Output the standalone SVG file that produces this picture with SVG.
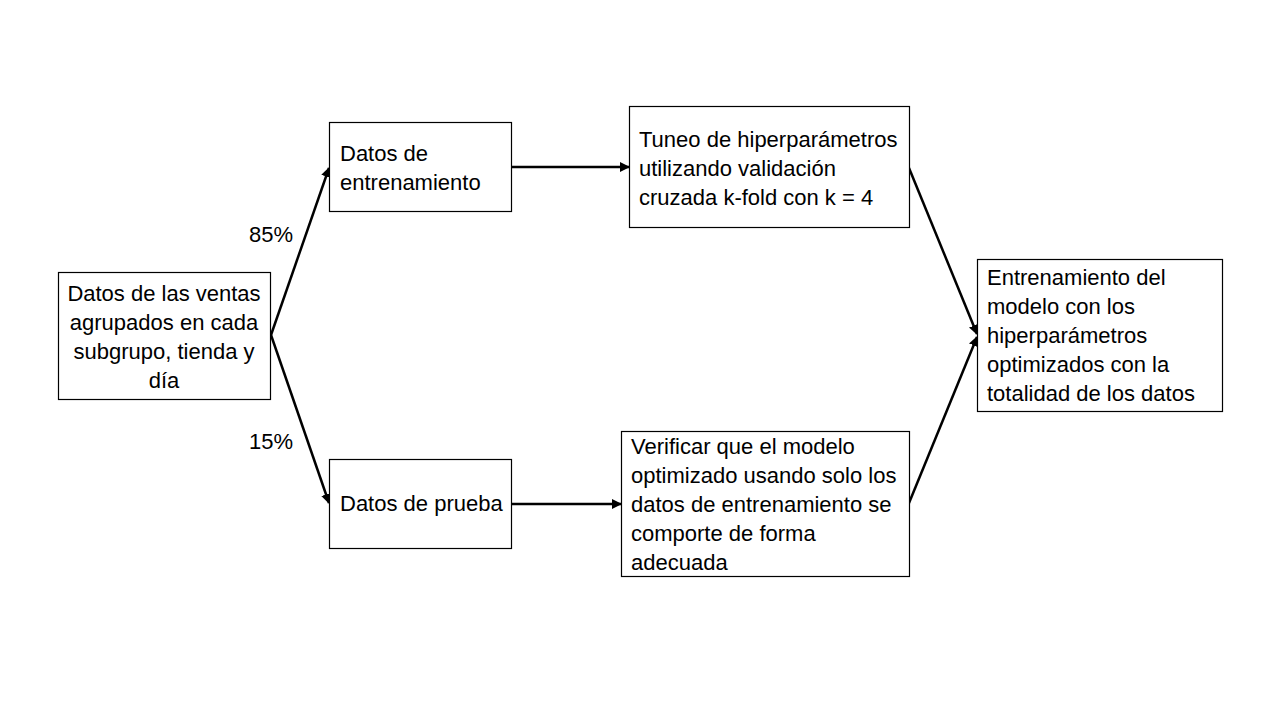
<svg xmlns="http://www.w3.org/2000/svg" width="1280" height="720" viewBox="0 0 1280 720">
<style>
.box{fill:#fff;stroke:#000;stroke-width:1.2}
.t{font-family:"Liberation Sans",Arial,sans-serif;font-size:22px;fill:#000}
.c{text-anchor:middle}
.con{stroke:#000;stroke-width:2.5;fill:none;marker-end:url(#ah)}
</style>
<defs>
<marker id="ah" viewBox="0 0 10 10" refX="9" refY="5" markerWidth="4" markerHeight="4" orient="auto" markerUnits="strokeWidth">
<path d="M0,0 L10,5 L0,10 z" fill="#000"/>
</marker>
</defs>
<rect width="1280" height="720" fill="#fff"/>
<g id="connectors">
<line class="con" x1="271" y1="335" x2="329" y2="168"/>
<line class="con" x1="271" y1="335" x2="329" y2="503"/>
<line class="con" x1="511" y1="167" x2="629" y2="167"/>
<line class="con" x1="511" y1="504" x2="621" y2="504"/>
<line class="con" x1="909" y1="168" x2="977" y2="334"/>
<line class="con" x1="909" y1="503" x2="977" y2="337"/>
<text class="t c" x="271" y="242">85%</text>
<text class="t c" x="271" y="449">15%</text>
</g>
<g id="source">
<rect class="box" x="58.5" y="272.5" width="212" height="127"/>
<text class="t c" x="164" y="301">Datos de las ventas</text>
<text class="t c" x="164" y="330">agrupados en cada</text>
<text class="t c" x="164" y="359">subgrupo, tienda y</text>
<text class="t c" x="164" y="388">día</text>
</g>
<g id="train">
<rect class="box" x="329.5" y="122.5" width="182" height="89"/>
<text class="t" x="340" y="161">Datos de</text>
<text class="t" x="340" y="190">entrenamiento</text>
</g>
<g id="test">
<rect class="box" x="329.5" y="459.5" width="182" height="89"/>
<text class="t" x="340" y="511">Datos de prueba</text>
</g>
<g id="tuning">
<rect class="box" x="629.5" y="106.5" width="280" height="121"/>
<text class="t" x="639" y="147">Tuneo de hiperparámetros</text>
<text class="t" x="639" y="176">utilizando validación</text>
<text class="t" x="639" y="205">cruzada k-fold con k = 4</text>
</g>
<g id="verify">
<rect class="box" x="621.5" y="431.5" width="288" height="145"/>
<text class="t" x="631" y="454">Verificar que el modelo</text>
<text class="t" x="631" y="483">optimizado usando solo los</text>
<text class="t" x="631" y="512">datos de entrenamiento se</text>
<text class="t" x="631" y="541">comporte de forma</text>
<text class="t" x="631" y="570">adecuada</text>
</g>
<g id="final">
<rect class="box" x="977.5" y="259.5" width="245" height="152"/>
<text class="t" x="987" y="285">Entrenamiento del</text>
<text class="t" x="987" y="314">modelo con los</text>
<text class="t" x="987" y="343">hiperparámetros</text>
<text class="t" x="987" y="372">optimizados con la</text>
<text class="t" x="987" y="401">totalidad de los datos</text>
</g>
</svg>
